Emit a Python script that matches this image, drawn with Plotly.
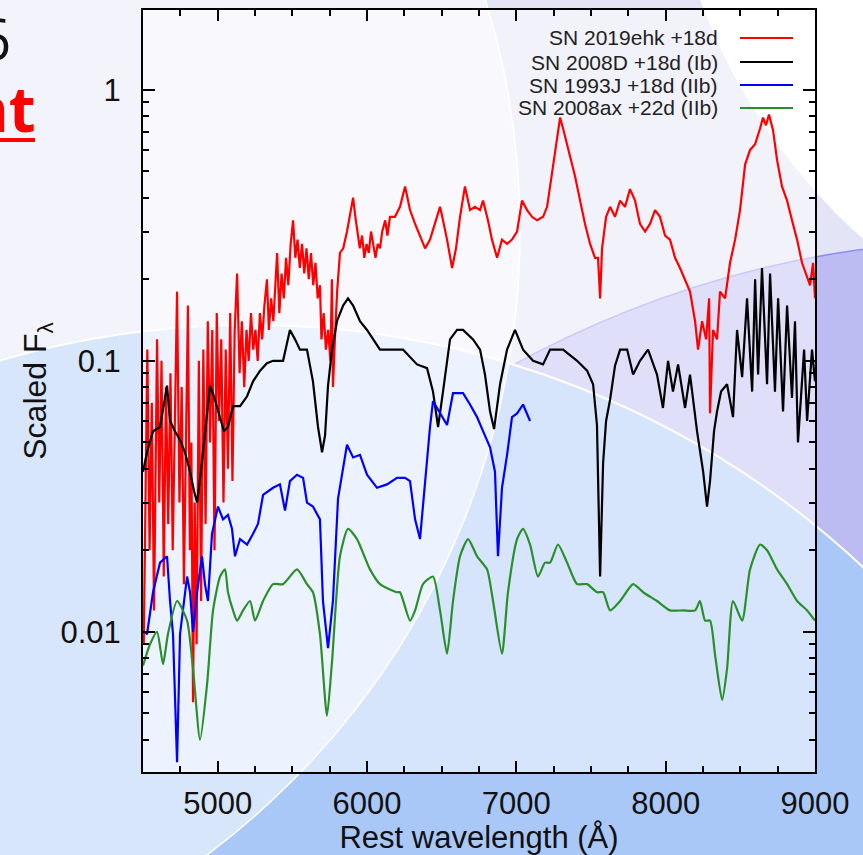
import plotly.graph_objects as go
import math

# ---------------- data ----------------
red_wl = [4505, 4519, 4529, 4544, 4559, 4574, 4594, 4609, 4624, 4639, 4654, 4669, 4684, 4699, 4714,
          4728, 4744, 4759, 4774, 4789, 4801, 4814, 4824, 4835, 4846, 4859, 4874, 4889, 4904, 4919,
          4934, 4949, 4964, 4979, 4994, 5009, 5024, 5039, 5054, 5069, 5084, 5099, 5114, 5130,
          5147, 5162, 5178, 5193, 5208, 5223, 5238, 5253, 5268, 5283, 5298, 5313, 5330, 5343, 5358,
          5373, 5388, 5398, 5413, 5428, 5443, 5458, 5473, 5489, 5505, 5520, 5535, 5550, 5565, 5580,
          5595, 5610, 5625, 5640, 5655, 5670, 5685, 5695, 5710, 5725, 5740, 5755, 5765, 5772, 5785,
          5800, 5819, 5841, 5866, 5886, 5907, 5922, 5937, 5952, 5967, 5982, 5997, 6012, 6027, 6042,
          6057, 6072, 6087, 6102, 6122, 6137, 6154, 6187, 6221, 6255, 6288, 6322, 6355, 6389, 6422,
          6456, 6489, 6509, 6536, 6570, 6596, 6623, 6656, 6690, 6723, 6757, 6777, 6810, 6837, 6871,
          6904, 6938, 6971, 7005, 7038, 7072, 7105, 7139, 7179, 7206, 7232, 7259, 7293, 7313, 7340,
          7366, 7393, 7427, 7460, 7494, 7527, 7547, 7561, 7574, 7601, 7628, 7661, 7695, 7728, 7761,
          7795, 7828, 7862, 7895, 7929, 7962, 7996, 8029, 8063, 8096, 8130, 8163, 8197, 8217, 8244,
          8271, 8291, 8297, 8317, 8344, 8364, 8398, 8431, 8465, 8498, 8532, 8565, 8599, 8632, 8652,
          8672, 8692, 8719, 8746, 8779, 8813, 8846, 8880, 8913, 8940, 8967, 8987, 9000]
red_f = [0.009, 0.05, 0.11, 0.02, 0.07, 0.012, 0.12, 0.03, 0.10, 0.016, 0.08, 0.025, 0.09, 0.02, 0.06,
         0.18, 0.03, 0.08, 0.015, 0.06, 0.16, 0.02, 0.05, 0.0055, 0.03, 0.009, 0.10, 0.013, 0.11, 0.025,
         0.14, 0.05, 0.13, 0.02, 0.15, 0.06, 0.12, 0.03, 0.11, 0.04, 0.15, 0.036, 0.13, 0.21,
         0.09, 0.14, 0.08, 0.13, 0.10, 0.15, 0.11, 0.13, 0.10, 0.15, 0.12, 0.16, 0.20, 0.13, 0.17,
         0.14, 0.19, 0.25, 0.15, 0.21, 0.17, 0.24, 0.19, 0.27, 0.33, 0.24, 0.28, 0.22, 0.27, 0.21,
         0.26, 0.20, 0.25, 0.19, 0.23, 0.17, 0.19, 0.12, 0.15, 0.11, 0.13, 0.10, 0.20, 0.08, 0.12,
         0.18, 0.25, 0.26, 0.30, 0.35, 0.40, 0.34, 0.30, 0.26, 0.29, 0.24, 0.27, 0.25, 0.30, 0.27,
         0.24, 0.27, 0.26, 0.30, 0.33, 0.29, 0.34, 0.34, 0.37, 0.44, 0.36, 0.32, 0.29, 0.26, 0.28,
         0.32, 0.37, 0.33, 0.28, 0.22, 0.26, 0.34, 0.44, 0.36, 0.37, 0.36, 0.39, 0.33, 0.28, 0.24,
         0.28, 0.27, 0.28, 0.30, 0.39, 0.36, 0.34, 0.33, 0.34, 0.37, 0.46, 0.60, 0.79, 0.72, 0.63,
         0.55, 0.48, 0.39, 0.32, 0.27, 0.24, 0.24, 0.17, 0.26, 0.34, 0.37, 0.34, 0.39, 0.37, 0.43,
         0.39, 0.32, 0.30, 0.32, 0.36, 0.34, 0.29, 0.28, 0.24, 0.22, 0.20, 0.18, 0.14, 0.11, 0.14,
         0.12, 0.17, 0.064, 0.13, 0.12, 0.18, 0.17, 0.23, 0.28, 0.36, 0.53, 0.60, 0.63, 0.72, 0.79,
         0.74, 0.81, 0.71, 0.55, 0.44, 0.39, 0.33, 0.28, 0.23, 0.21, 0.19, 0.23, 0.17]

black_wl = [4500, 4527, 4567, 4614, 4661, 4681, 4714, 4748, 4781, 4815, 4842, 4862, 4888, 4915, 4949,
            4975, 5009, 5042, 5069, 5103, 5150, 5197, 5237, 5284, 5330, 5371, 5438, 5484, 5518, 5551,
            5598, 5638, 5672, 5699, 5719, 5739, 5766, 5799, 5840, 5873, 5907, 5953, 6000, 6041, 6087,
            6154, 6241, 6335, 6402, 6442, 6476, 6509, 6556, 6603, 6643, 6710, 6757, 6790, 6824, 6851,
            6891, 6938, 6991, 7045, 7112, 7179, 7226, 7313, 7407, 7474, 7514, 7540, 7561, 7581, 7601,
            7628, 7661, 7695, 7742, 7782, 7828, 7882, 7942, 7982, 8016, 8049, 8083, 8130, 8163, 8210,
            8251, 8277, 8297, 8324, 8344, 8371, 8411, 8451, 8478, 8512, 8545, 8579, 8599, 8619, 8645,
            8679, 8699, 8732, 8753, 8786, 8813, 8846, 8866, 8886, 8927, 8947, 8980, 9000]
black_f = [0.039, 0.046, 0.055, 0.057, 0.081, 0.060, 0.055, 0.051, 0.046, 0.039, 0.033, 0.030, 0.039, 0.055, 0.081,
           0.074, 0.063, 0.055, 0.057, 0.068, 0.068, 0.074, 0.084, 0.092, 0.098, 0.10, 0.10, 0.13, 0.12, 0.11,
           0.11, 0.084, 0.057, 0.046, 0.053, 0.081, 0.11, 0.14, 0.16, 0.17, 0.16, 0.14, 0.13, 0.12, 0.11,
           0.11, 0.11, 0.097, 0.094, 0.077, 0.057, 0.077, 0.12, 0.13, 0.13, 0.12, 0.11, 0.089, 0.065, 0.056,
           0.082, 0.11, 0.13, 0.11, 0.10, 0.097, 0.11, 0.11, 0.10, 0.092, 0.082, 0.058, 0.016, 0.042, 0.060,
           0.072, 0.096, 0.11, 0.11, 0.089, 0.10, 0.11, 0.089, 0.067, 0.10, 0.077, 0.097, 0.067, 0.089, 0.055,
           0.039, 0.029, 0.036, 0.055, 0.065, 0.077, 0.082, 0.062, 0.13, 0.087, 0.17, 0.077, 0.20, 0.089, 0.22,
           0.082, 0.21, 0.077, 0.17, 0.065, 0.16, 0.073, 0.14, 0.050, 0.11, 0.060, 0.11, 0.084]

blue_wl = [4513, 4527, 4567, 4614, 4661, 4681, 4701, 4728, 4748, 4768, 4795, 4815, 4835, 4862, 4895,
           4915, 4935, 4962, 5002, 5036, 5069, 5096, 5116, 5150, 5197, 5237, 5270, 5304, 5371, 5417,
           5451, 5484, 5531, 5572, 5598, 5638, 5685, 5705, 5739, 5772, 5806, 5866, 5907, 5953, 6000,
           6067, 6134, 6201, 6255, 6288, 6322, 6355, 6375, 6402, 6422, 6442, 6489, 6536, 6576, 6643,
           6690, 6737, 6777, 6824, 6857, 6877, 6904, 6938, 6971, 7005, 7045, 7092]
blue_f = [0.010, 0.0098, 0.014, 0.018, 0.019, 0.013, 0.0098, 0.0033, 0.0098, 0.012, 0.016, 0.014, 0.010, 0.014, 0.019,
          0.015, 0.013, 0.023, 0.029, 0.026, 0.027, 0.024, 0.019, 0.022, 0.021, 0.023, 0.025, 0.032, 0.034, 0.035,
          0.028, 0.036, 0.038, 0.037, 0.030, 0.029, 0.026, 0.013, 0.0087, 0.013, 0.031, 0.049, 0.044, 0.045, 0.038,
          0.034, 0.035, 0.037, 0.037, 0.036, 0.026, 0.022, 0.029, 0.044, 0.057, 0.071, 0.064, 0.058, 0.076, 0.076,
          0.069, 0.062, 0.055, 0.048, 0.039, 0.019, 0.034, 0.045, 0.062, 0.064, 0.069, 0.060]

green_wl = [4500, 4547, 4594, 4634, 4667, 4728, 4795, 4835, 4882, 4929, 4969, 5016, 5049, 5069, 5103,
            5130, 5170, 5217, 5250, 5304, 5371, 5438, 5531, 5598, 5638, 5685, 5732, 5766, 5819, 5873,
            5933, 6020, 6087, 6201, 6221, 6288, 6322, 6375, 6442, 6489, 6536, 6576, 6623, 6677, 6737,
            6804, 6844, 6904, 6944, 7005, 7045, 7092, 7145, 7192, 7226, 7279, 7340, 7407, 7474, 7540,
            7581, 7628, 7695, 7782, 7849, 7942, 8029, 8116, 8197, 8230, 8264, 8297, 8331, 8378, 8411,
            8451, 8512, 8565, 8632, 8679, 8746, 8813, 8880, 8947, 9000]
green_f = [0.0075, 0.0090, 0.010, 0.0076, 0.0098, 0.013, 0.011, 0.0073, 0.0040, 0.0064, 0.012, 0.016, 0.017, 0.014, 0.012,
           0.011, 0.012, 0.013, 0.011, 0.013, 0.015, 0.015, 0.017, 0.015, 0.014, 0.0098, 0.0049, 0.0078, 0.019, 0.024,
           0.022, 0.017, 0.015, 0.014, 0.014, 0.011, 0.012, 0.015, 0.016, 0.012, 0.0083, 0.013, 0.019, 0.022, 0.019,
           0.017, 0.013, 0.0083, 0.014, 0.022, 0.024, 0.021, 0.016, 0.018, 0.018, 0.021, 0.018, 0.015, 0.015, 0.014,
           0.014, 0.012, 0.013, 0.015, 0.014, 0.013, 0.012, 0.012, 0.012, 0.013, 0.011, 0.011, 0.0082, 0.0056, 0.0073,
           0.013, 0.011, 0.017, 0.021, 0.020, 0.017, 0.015, 0.013, 0.012, 0.011]

series_names = ["SN 2019ehk +18d", "SN 2008D +18d (Ib)", "SN 1993J +18d (IIb)", "SN 2008ax +22d (IIb)"]
series_colors = ["#ff0000", "#000000", "#0000ff", "#2a8f2a"]

x_ticks = [5000, 6000, 7000, 8000, 9000]
y_ticks = [0.01, 0.1, 1]
y_tick_text = ["0.01", "0.1", "1"]

# ---------------- geometry helpers (slide layout) ----------------
W, H = 863, 855
L, R, T, B = 143, 815, 10, 772


def px(x):
    return (x - L) / (R - L)


def py(y):
    return (B - y) / (B - T)


fig = go.Figure()
data = [(red_wl, red_f), (black_wl, black_f), (blue_wl, blue_f), (green_wl, green_f)]
for i, ((wl, f), name, col) in enumerate(zip(data, series_names, series_colors)):
    shape = "spline" if i == 3 else "linear"
    fig.add_trace(go.Scatter(x=wl, y=f, mode="lines", name=name,
                             line=dict(color=col, width=2.2, shape=shape, smoothing=0.6),
                             showlegend=False))

shapes = []


def circle(cx, cy, r, fill, line_color=None, lw=0):
    shapes.append(dict(type="circle", xref="paper", yref="paper", layer="below",
                       x0=px(cx - r), x1=px(cx + r), y0=py(cy + r), y1=py(cy - r),
                       fillcolor=fill,
                       line=dict(color=line_color or "rgba(0,0,0,0)", width=lw)))


# slide decoration behind the chart
circle(1000, 1250, 1010, "#bcbcf3", "#8c8cf2", 1.5)
circle(250, 1222, 897, "#a9c8f8", "#ffffff", 2)
circle(1250, -200, 585, "#ffffff")
circle(-260, 230, 780, "rgba(255,255,255,0.55)", "#ffffff", 1.5)
# translucent white panel of the chart itself
shapes.append(dict(type="rect", xref="paper", yref="paper", layer="below",
                   x0=0, x1=1, y0=0, y1=1, fillcolor="rgba(255,255,255,0.52)",
                   line=dict(width=0)))

# legend (text left of sample line, as in the original)
leg_y = [38, 62, 85, 108]
annotations = []
for name, col, yy in zip(series_names, series_colors, leg_y):
    annotations.append(dict(text=name, xref="paper", yref="paper", x=px(719), y=py(yy),
                            xanchor="right", yanchor="middle", showarrow=False, borderpad=0,
                            font=dict(family="Liberation Sans, Arial", size=21, color="#222222")))
    shapes.append(dict(type="line", xref="paper", yref="paper", x0=px(740), x1=px(793),
                       y0=py(yy), y1=py(yy), line=dict(color=col, width=2)))

# fragments of slide text cut by the crop
annotations.append(dict(text="6", xref="paper", yref="paper", x=px(12), y=py(38),
                        xanchor="right", yanchor="middle", showarrow=False, borderpad=0,
                        font=dict(family="Open Sans, Liberation Sans", size=56, color="#111111")))
annotations.append(dict(text="<b>nt</b>", xref="paper", yref="paper", x=px(37), y=py(108),
                        xanchor="right", yanchor="middle", showarrow=False, borderpad=0,
                        font=dict(family="Open Sans, Liberation Sans", size=62, color="#ff0000")))
shapes.append(dict(type="line", xref="paper", yref="paper", x0=px(-5), x1=px(35),
                   y0=py(140), y1=py(140), line=dict(color="#ff0000", width=4)))

axis_font = dict(family="Liberation Sans, Arial", size=31, color="#111111")

y_minor = [m * 10.0 ** e for e in (-3, -2, -1, 0) for m in range(2, 10)]
x_minor = [v for v in range(4500, 9001, 250) if v % 1000 != 0]

fig.update_layout(
    width=W, height=H,
    margin=dict(l=L, r=W - R, t=T, b=H - B, autoexpand=False),
    paper_bgcolor="#e4e4f7",
    plot_bgcolor="rgba(0,0,0,0)",
    shapes=shapes,
    annotations=annotations,
    showlegend=False,
    xaxis=dict(range=[4500, 9000], tickvals=x_ticks, ticktext=[str(v) for v in x_ticks],
               ticks="inside", ticklen=11, tickwidth=2, tickcolor="black",
               showline=True, linewidth=2, linecolor="black", mirror="ticks",
               showgrid=False, zeroline=False, tickfont=axis_font, ticklabelstandoff=3,
               minor=dict(tickvals=x_minor, ticks="inside", ticklen=6, tickwidth=1.5,
                          tickcolor="black", showgrid=False),
               title=dict(text="Rest wavelength (Å)", font=axis_font, standoff=6),
               automargin=False),
    yaxis=dict(type="log", range=[math.log10(0.00304), math.log10(1.97)],
               tickvals=y_ticks, ticktext=y_tick_text,
               ticks="inside", ticklen=12, tickwidth=2, tickcolor="black",
               showline=True, linewidth=2, linecolor="black", mirror="ticks",
               showgrid=False, zeroline=False, tickfont=axis_font, ticklabelstandoff=14,
               minor=dict(tickvals=y_minor, ticks="inside", ticklen=6, tickwidth=1.5,
                          tickcolor="black", showgrid=False),
               title=dict(text="Scaled F<sub>λ</sub>", font=dict(family="Liberation Sans, Arial", size=32, color="#111111"), standoff=4),
               automargin=False),
)

fig.write_html("out.html",
               config={"displayModeBar": False},
               post_script="document.body.style.margin='0';document.body.style.overflow='hidden';")
